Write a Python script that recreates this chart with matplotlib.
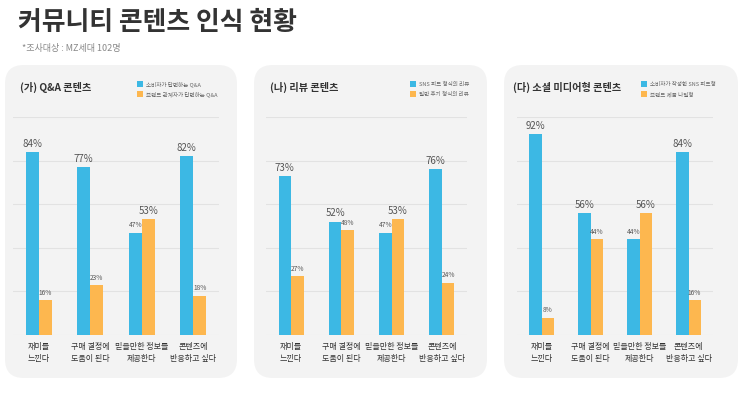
import matplotlib
matplotlib.use("Agg")
import matplotlib.pyplot as plt
from matplotlib.patches import FancyBboxPatch, Rectangle
import numpy as np

plt.rcParams['font.family'] = ['Noto Sans CJK KR', 'DejaVu Sans']

title = "커뮤니티 콘텐츠 인식 현황"
subtitle = "*조사대상 : MZ세대 102명"
categories = ["재미를\n느낀다", "구매 결정에\n도움이 된다", "믿을만한 정보를\n제공한다", "콘텐츠에\n반응하고 싶다"]

panel_titles = ["(가) Q&A 콘텐츠", "(나) 리뷰 콘텐츠", "(다) 소셜 미디어형 콘텐츠"]
legend_a = ["소비자가 답변하는 Q&A", "SNS 피드 형식의 리뷰", "소비자가 작성한 SNS 피드형"]
legend_b = ["브랜드 관계자가 답변하는 Q&A", "일반 후기 형식의 리뷰", "브랜드 제품 나열형"]
series_a = [[84, 77, 47, 82], [73, 52, 47, 76], [92, 56, 44, 84]]
series_b = [[16, 23, 53, 18], [27, 48, 53, 24], [8, 44, 56, 16]]

BLUE = "#3cb8e4"
ORANGE = "#fdb74f"
W, H = 750, 393

fig = plt.figure(figsize=(7.5, 3.93), dpi=100)
fig.patch.set_facecolor("white")

def fx(x): return x / W
def fy(y): return 1 - y / H

fig.text(fx(18), fy(23), title, fontsize=18.6, fontweight="bold", color="#333333", va="center", ha="left")
fig.text(fx(22), fy(48), subtitle, fontsize=6.5, color="#888888", va="center", ha="left")

panels = [(5, 237), (254, 487), (504, 738)]
title_x = [20, 270, 513]
axes_x = [(13, 219), (266, 467), (517, 713)]
leg_x = [137, 410, 641]
top_y, bot_y = 65, 378

for i in range(3):
    px0, px1 = panels[i]
    box = FancyBboxPatch((fx(px0), fy(bot_y)), fx(px1 - px0), (bot_y - top_y) / H,
                         boxstyle="round,pad=0,rounding_size=0.025",
                         transform=fig.transFigure, facecolor="#f3f3f3", edgecolor="none",
                         mutation_aspect=W / H, zorder=0)
    fig.patches.append(box)
    fig.text(fx(title_x[i]), fy(87), panel_titles[i], fontsize=7.3, fontweight="bold",
             color="#333333", va="center", ha="left")
    # legend
    for j, (lab, col) in enumerate([(legend_a[i], BLUE), (legend_b[i], ORANGE)]):
        yy = 84 + j * 10
        fig.patches.append(Rectangle((fx(leg_x[i]), fy(yy + 3)), fx(6), 6 / H,
                                     transform=fig.transFigure, facecolor=col, edgecolor="none", zorder=1))
        fig.text(fx(leg_x[i] + 9), fy(yy), lab, fontsize=4.0, color="#666666", va="center", ha="left")

    ax0, ax1 = axes_x[i]
    ax = fig.add_axes([fx(ax0), fy(335), fx(ax1 - ax0), (335 - 117) / H])
    ax.set_zorder(5)
    ax.patch.set_visible(False)
    x = np.arange(len(categories))
    bw = 0.25
    a = series_a[i]; b = series_b[i]
    ax.bar(x - bw / 2, a, bw, color=BLUE, zorder=3)
    ax.bar(x + bw / 2, b, bw, color=ORANGE, zorder=3)
    for k in range(len(categories)):
        big_a = a[k] >= b[k]
        ax.text(x[k] - bw / 2, a[k] + 1.5, f"{a[k]}%", ha="center", va="bottom",
                fontsize=7 if big_a else 4.8, color="#555555")
        ax.text(x[k] + bw / 2, b[k] + 1.5, f"{b[k]}%", ha="center", va="bottom",
                fontsize=7 if not big_a else 4.8, color="#555555")
    ax.set_ylim(0, 100)
    ax.set_xlim(-0.5, len(categories) - 0.5)
    ax.set_yticks([0, 20, 40, 60, 80, 100])
    ax.yaxis.grid(True, color="#e2e2e2", linewidth=0.8, zorder=0)
    ax.tick_params(axis="y", left=False, labelleft=False)
    ax.tick_params(axis="x", bottom=False, pad=1.5)
    ax.set_xticks(x)
    ax.set_xticklabels(categories, fontsize=5.8, color="#333333", linespacing=1.4)
    for s in ax.spines.values():
        s.set_visible(False)

fig.savefig("out.png", dpi=100, facecolor="white")
